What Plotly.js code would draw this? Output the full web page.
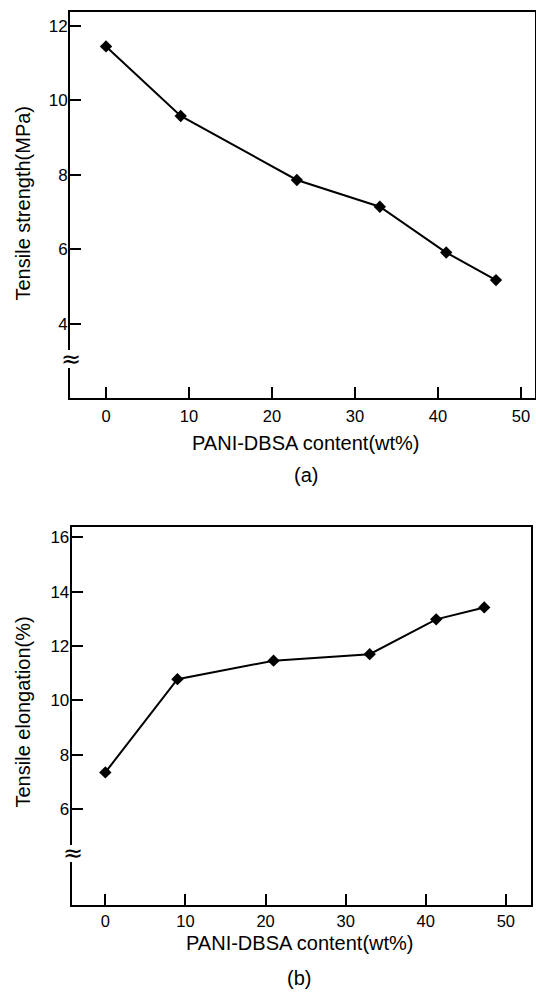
<!DOCTYPE html>
<html>
<head>
<meta charset="utf-8">
<script src="https://cdn.plot.ly/plotly-3.0.1.min.js"></script>
<style>html,body{margin:0;padding:0;background:#fff;}#chart{width:536px;height:993px;}</style>
</head>
<body>
<div id="chart"></div>
<script>
// Data
const contentA = [0, 9, 23, 33, 41, 47];
const strengthA = [11.45, 9.58, 7.86, 7.14, 5.91, 5.17];
const contentB = [0, 9, 21, 33, 41.3, 47.3];
const elongationB = [7.35, 10.78, 11.46, 11.7, 12.98, 13.42];
const xTicks = [0, 10, 20, 30, 40, 50];
const yTicksA = [4, 6, 8, 10, 12];
const yTicksB = [6, 8, 10, 12, 14, 16];
const xTitle = 'PANI-DBSA content(wt%)';
const yTitleA = 'Tensile strength(MPa)';
const yTitleB = 'Tensile elongation(%)';
const captions = ['(a)', '(b)'];

const W = 536, H = 993;
const px = v => v / W;
const py = v => 1 - v / H;
const FONT = 'Liberation Sans, Arial, sans-serif';

const lineStyle = {color: '#000', width: 2};
const markerStyle = {symbol: 'diamond', size: 9.5, color: '#000'};

const traces = [
  {x: contentA, y: strengthA, xaxis: 'x', yaxis: 'y', mode: 'lines+markers', line: lineStyle, marker: markerStyle, showlegend: false},
  {x: contentB, y: elongationB, xaxis: 'x2', yaxis: 'y2', mode: 'lines+markers', line: lineStyle, marker: markerStyle, showlegend: false}
];

const axisCommon = {
  showline: true, mirror: true, linecolor: '#000', linewidth: 2,
  ticks: 'inside', ticklen: 11, tickwidth: 2, tickcolor: '#000',
  showgrid: false, zeroline: false,
  fixedrange: true
};
const xFont = {family: FONT, size: 16.5, color: '#000'};
const yFont = {family: FONT, size: 17, color: '#000'};

const layout = {
  width: W, height: H,
  margin: {l: 0, r: 0, t: 0, b: 0},
  paper_bgcolor: '#fff', plot_bgcolor: '#fff',
  font: {family: FONT, color: '#000'},
  xaxis: Object.assign({}, axisCommon, {domain: [px(70), px(535)], range: [-4.34, 51.7], tickvals: xTicks, anchor: 'y', tickfont: xFont, ticklabelstandoff: 2}),
  yaxis: Object.assign({}, axisCommon, {domain: [py(398), py(12)], range: [2.0, 12.375], tickvals: yTicksA, anchor: 'x', tickfont: yFont, ticklabelstandoff: -3}),
  xaxis2: Object.assign({}, axisCommon, {domain: [px(71.7), px(530.7)], range: [-4.2, 53.1], tickvals: xTicks, anchor: 'y2', tickfont: xFont, ticklabelstandoff: 0}),
  yaxis2: Object.assign({}, axisCommon, {domain: [py(905), py(526.7)], range: [2.47, 16.39], tickvals: yTicksB, anchor: 'x2', tickfont: yFont, ticklabelstandoff: -3}),
  shapes: [
    {type: 'rect', xref: 'paper', yref: 'paper', x0: px(66), x1: px(75), y0: py(368), y1: py(350), fillcolor: '#fff', line: {width: 0}, layer: 'above'},
    {type: 'rect', xref: 'paper', yref: 'paper', x0: px(67), x1: px(76.5), y0: py(862), y1: py(845), fillcolor: '#fff', line: {width: 0}, layer: 'above'}
  ],
  annotations: [
    {text: '≈', xref: 'paper', yref: 'paper', x: px(70.5), y: py(359), xanchor: 'center', yanchor: 'middle', showarrow: false, font: {family: 'DejaVu Sans, sans-serif', size: 24, color: '#000'}},
    {text: '≈', xref: 'paper', yref: 'paper', x: px(73), y: py(853), xanchor: 'center', yanchor: 'middle', showarrow: false, font: {family: 'DejaVu Sans, sans-serif', size: 24, color: '#000'}},
    {text: yTitleA, xref: 'paper', yref: 'paper', x: px(22), y: py(203.5), textangle: -90, xanchor: 'center', yanchor: 'middle', showarrow: false, font: {family: FONT, size: 20, color: '#000'}},
    {text: yTitleB, xref: 'paper', yref: 'paper', x: px(22), y: py(712.5), textangle: -90, xanchor: 'center', yanchor: 'middle', showarrow: false, font: {family: FONT, size: 20, color: '#000'}},
    {text: xTitle, xref: 'paper', yref: 'paper', x: px(305.5), y: py(443), xanchor: 'center', yanchor: 'middle', showarrow: false, font: {family: FONT, size: 20, color: '#000'}},
    {text: xTitle, xref: 'paper', yref: 'paper', x: px(299), y: py(943), xanchor: 'center', yanchor: 'middle', showarrow: false, font: {family: FONT, size: 20, color: '#000'}},
    {text: captions[0], xref: 'paper', yref: 'paper', x: px(306), y: py(475), xanchor: 'center', yanchor: 'middle', showarrow: false, font: {family: FONT, size: 20, color: '#000'}},
    {text: captions[1], xref: 'paper', yref: 'paper', x: px(299), y: py(978), xanchor: 'center', yanchor: 'middle', showarrow: false, font: {family: FONT, size: 20, color: '#000'}}
  ]
};

Plotly.newPlot('chart', traces, layout, {displayModeBar: false, staticPlot: true});
</script>
</body>
</html>
